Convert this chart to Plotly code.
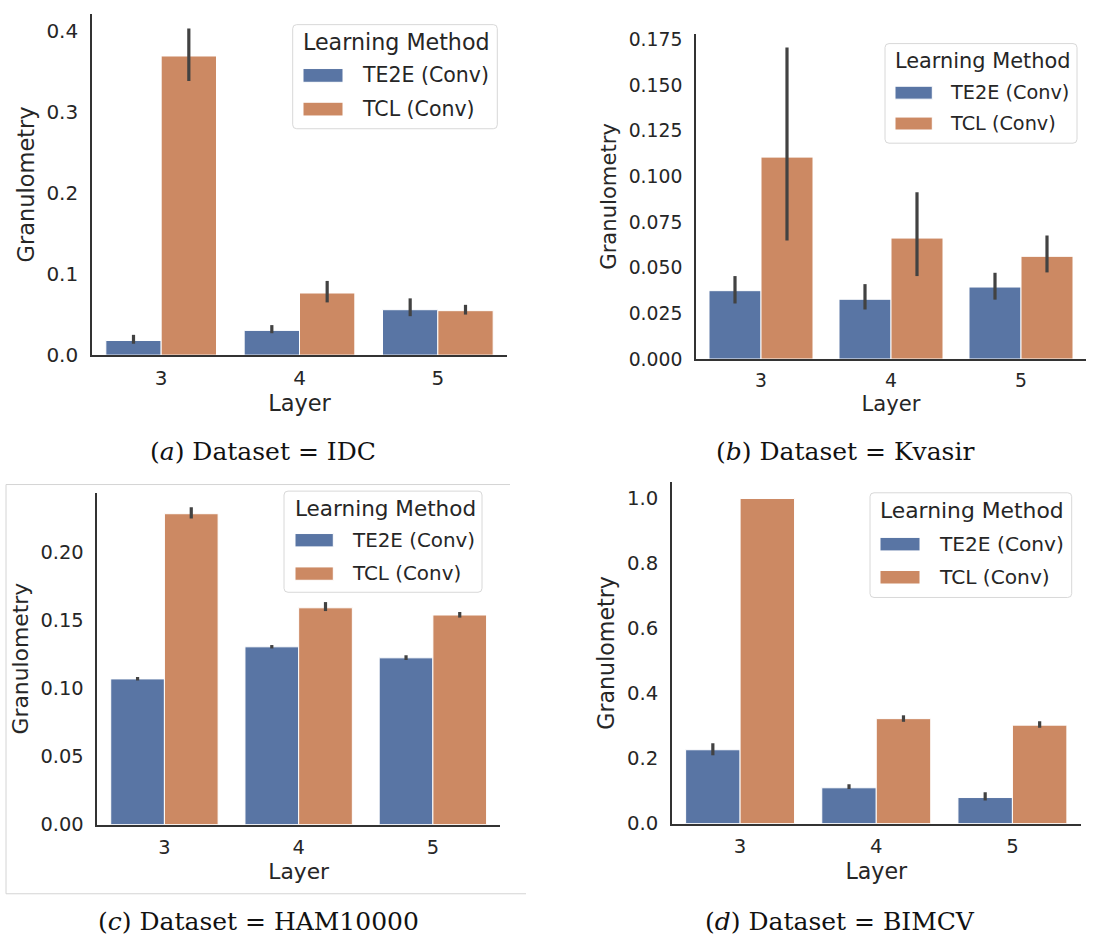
import plotly.graph_objects as go

W, H = 1106, 947

layers = ["3", "4", "5"]
methods = ["TE2E (Conv)", "TCL (Conv)"]
colors = ["#5975a4", "#cc8963"]

datasets = ["IDC", "Kvasir", "HAM10000", "BIMCV"]
letters = ["a", "b", "c", "d"]

# means and confidence interval bounds
idc_te2e = [0.018, 0.0305, 0.056]
idc_te2e_lo = [0.014, 0.027, 0.048]
idc_te2e_hi = [0.025, 0.037, 0.070]
idc_tcl = [0.369, 0.0766, 0.0548]
idc_tcl_lo = [0.338, 0.065, 0.050]
idc_tcl_hi = [0.403, 0.0915, 0.062]

kva_te2e = [0.0374, 0.0327, 0.0394]
kva_te2e_lo = [0.0304, 0.0271, 0.0325]
kva_te2e_hi = [0.0454, 0.0410, 0.0472]
kva_tcl = [0.1105, 0.0662, 0.0562]
kva_tcl_lo = [0.0648, 0.0454, 0.0474]
kva_tcl_hi = [0.1705, 0.0913, 0.0676]

ham_te2e = [0.1071, 0.1307, 0.1226]
ham_te2e_lo = [0.1060, 0.1295, 0.1210]
ham_te2e_hi = [0.1085, 0.1320, 0.1245]
ham_tcl = [0.2286, 0.1594, 0.1541]
ham_tcl_lo = [0.2250, 0.1570, 0.1522]
ham_tcl_hi = [0.2334, 0.1636, 0.1563]

bim_te2e = [0.227, 0.110, 0.080]
bim_te2e_lo = [0.210, 0.106, 0.071]
bim_te2e_hi = [0.247, 0.121, 0.096]
bim_tcl = [1.000, 0.3227, 0.3027]
bim_tcl_lo = [1.000, 0.313, 0.295]
bim_tcl_hi = [1.000, 0.333, 0.315]

y_ticks = [
    [0.0, 0.1, 0.2, 0.3, 0.4],
    [0.0, 0.025, 0.05, 0.075, 0.1, 0.125, 0.15, 0.175],
    [0.0, 0.05, 0.1, 0.15, 0.2],
    [0.0, 0.2, 0.4, 0.6, 0.8, 1.0],
]
y_ticktext = [
    ["0.0", "0.1", "0.2", "0.3", "0.4"],
    ["0.000", "0.025", "0.050", "0.075", "0.100", "0.125", "0.150", "0.175"],
    ["0.00", "0.05", "0.10", "0.15", "0.20"],
    ["0.0", "0.2", "0.4", "0.6", "0.8", "1.0"],
]
y_max = [0.421, 0.178, 0.244, 1.05]

series = [
    [(idc_te2e, idc_te2e_lo, idc_te2e_hi), (idc_tcl, idc_tcl_lo, idc_tcl_hi)],
    [(kva_te2e, kva_te2e_lo, kva_te2e_hi), (kva_tcl, kva_tcl_lo, kva_tcl_hi)],
    [(ham_te2e, ham_te2e_lo, ham_te2e_hi), (ham_tcl, ham_tcl_lo, ham_tcl_hi)],
    [(bim_te2e, bim_te2e_lo, bim_te2e_hi), (bim_tcl, bim_tcl_lo, bim_tcl_hi)],
]

# layout (pixels): plot area left, right, top, bottom
areas = [
    (92, 507, 9, 356.5),
    (696, 1086, 29.3, 360.5),
    (97.3, 500, 496.7, 834.5),
    (672, 1080.5, 486, 833.5),
]
legends = [
    ((292.7, 497.3, 20, 126), (301, 38), (303, 343), (71.7, 106), 360),
    ((885, 1077, 39.3, 140.7), (893.3, 56.7), (895, 932.3), (89.3, 120.7), 948.3),
    ((284, 482, 495, 598), (292.7, 513), (295, 333.3), (545, 579), 350),
    ((870, 1071.7, 496.7, 603.3), (878.3, 515), (880, 920), (549, 582.7), 936.7),
]
captions = [(263, 455), (845, 455), (258, 933), (840, 933)]


def px(x):
    return x / W


def py(y):
    return 1 - y / H


fig = go.Figure()
shapes = []
annotations = []
TXT = "#262626"
FONT = "DejaVu Sans"

for i in range(4):
    xa = "x" if i == 0 else f"x{i+1}"
    ya = "y" if i == 0 else f"y{i+1}"
    x0, x1, y0, y1 = areas[i]
    s = (x1 - x0) / 415.0
    for j, (vals, lo, hi) in enumerate(series[i]):
        fig.add_trace(go.Bar(
            x=layers, y=vals, name=methods[j], xaxis=xa, yaxis=ya,
            marker=dict(color=colors[j], line=dict(color="white", width=1)),
            error_y=dict(type="data", symmetric=False,
                         array=[h - v for h, v in zip(hi, vals)],
                         arrayminus=[v - l for v, l in zip(vals, lo)],
                         color="#424242", thickness=3.2, width=0),
            offsetgroup=str(j), showlegend=False,
        ))
    axk = "xaxis" if i == 0 else f"xaxis{i+1}"
    ayk = "yaxis" if i == 0 else f"yaxis{i+1}"
    tick_fs = 20 * s
    lab_fs = 22.5 * s
    fig.layout[axk] = dict(
        domain=[px(x0), px(x1)], anchor=ya, type="category",
        range=[-0.5, 2.5], showgrid=False, zeroline=False,
        showline=True, linecolor="#333333", linewidth=1.6,
        ticks="outside", ticklen=4, tickcolor="rgba(0,0,0,0)",
        tickfont=dict(family=FONT, size=tick_fs, color=TXT),
        title=dict(text="Layer", font=dict(family=FONT, size=lab_fs, color=TXT), standoff=5),
        fixedrange=True,
    )
    fig.layout[ayk] = dict(
        domain=[py(y1), py(y0)], anchor=xa, range=[0, y_max[i]],
        showgrid=False, zeroline=False,
        showline=True, linecolor="#333333", linewidth=1.6,
        ticks="outside", ticklen=8, tickcolor="rgba(0,0,0,0)",
        tickvals=y_ticks[i], ticktext=y_ticktext[i],
        tickfont=dict(family=FONT, size=tick_fs, color=TXT),
        title=dict(text="Granulometry", font=dict(family=FONT, size=lab_fs, color=TXT), standoff=6),
        fixedrange=True,
    )

    # legend box drawn by hand to match matplotlib's look
    (bx0, bx1, by0, by1), (tx, ty), (pa0, pa1), eys, etx = legends[i]
    r = 4
    path = (f"M {px(bx0 + r)},{py(by0)} L {px(bx1 - r)},{py(by0)} "
            f"Q {px(bx1)},{py(by0)} {px(bx1)},{py(by0 + r)} "
            f"L {px(bx1)},{py(by1 - r)} Q {px(bx1)},{py(by1)} {px(bx1 - r)},{py(by1)} "
            f"L {px(bx0 + r)},{py(by1)} Q {px(bx0)},{py(by1)} {px(bx0)},{py(by1 - r)} "
            f"L {px(bx0)},{py(by0 + r)} Q {px(bx0)},{py(by0)} {px(bx0 + r)},{py(by0)} Z")
    shapes.append(dict(type="path", xref="paper", yref="paper", path=path,
                       fillcolor="rgba(255,255,255,0.8)",
                       line=dict(color="#d8d8d8", width=1), layer="above"))
    annotations.append(dict(x=px(tx), y=py(ty), xref="paper", yref="paper",
                            text="Learning Method", showarrow=False,
                            xanchor="left", yanchor="middle",
                            font=dict(family=FONT, size=22.2 * s, color=TXT)))
    ph = 14 * s
    for j in range(2):
        shapes.append(dict(type="rect", xref="paper", yref="paper",
                           x0=px(pa0), x1=px(pa1), y0=py(eys[j] - ph / 2), y1=py(eys[j] + ph / 2),
                           fillcolor=colors[j], line=dict(color="white", width=1), layer="above"))
        annotations.append(dict(x=px(etx), y=py(eys[j]), xref="paper", yref="paper",
                                text=methods[j], showarrow=False,
                                xanchor="left", yanchor="middle",
                                font=dict(family=FONT, size=20.5 * s, color=TXT)))

    cx, cy = captions[i]
    annotations.append(dict(
        x=px(cx), y=py(cy), xref="paper", yref="paper", showarrow=False,
        xanchor="center", yanchor="middle",
        text=f"(<i>{letters[i]}</i>)\u00a0Dataset\u00a0=\u00a0{datasets[i]}",
        font=dict(family="DejaVu Serif", size=25, color="#111111")))

# light frame around panel (c)
for (ax0, ay0, ax1, ay1) in [(6, 488.3, 510, 488.3), (6, 488.3, 6, 905), (6, 905, 526, 905)]:
    shapes.append(dict(type="line", xref="paper", yref="paper",
                       x0=px(ax0), x1=px(ax1), y0=py(ay0), y1=py(ay1),
                       line=dict(color="#d4d4d4", width=1)))

fig.update_layout(
    width=W, height=H, margin=dict(l=0, r=0, t=0, b=0),
    paper_bgcolor="white", plot_bgcolor="white",
    barmode="group", bargap=0.2, bargroupgap=0,
    shapes=shapes, annotations=annotations, showlegend=False,
)

fig.write_html("out.html", config={"displayModeBar": False},
               post_script="document.body.style.margin='0';document.body.style.overflow='hidden';")
